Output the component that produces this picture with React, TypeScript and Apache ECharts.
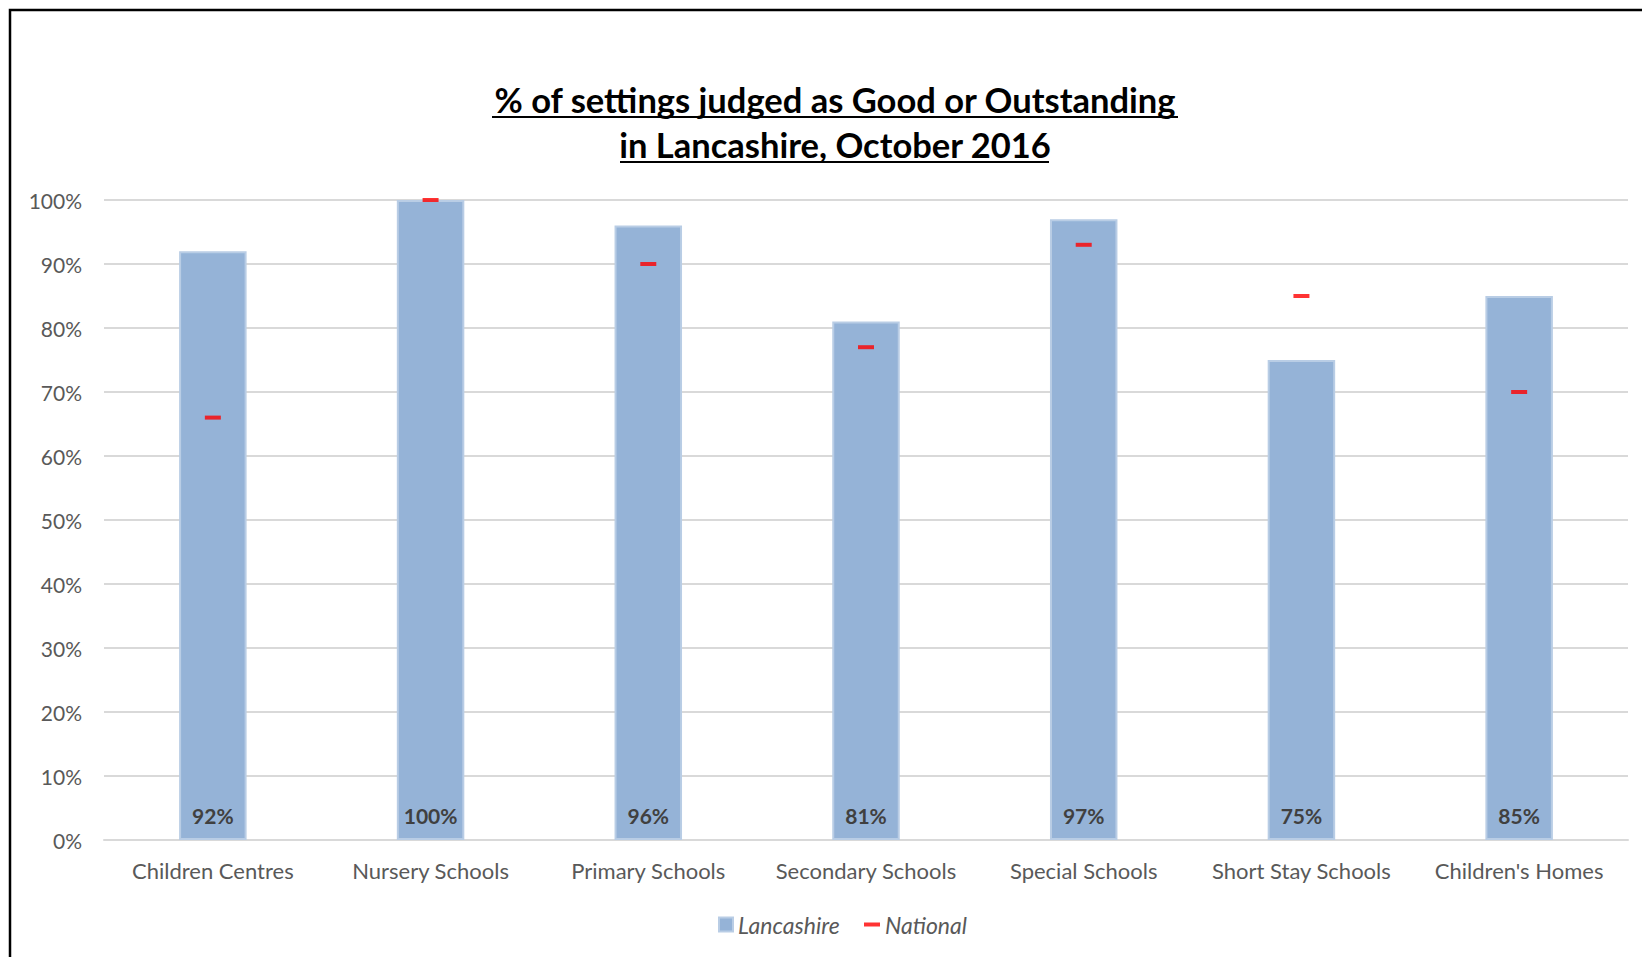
import React, { useEffect, useRef } from "react";
import * as echarts from "echarts";

const categories = [
  "Children Centres",
  "Nursery Schools",
  "Primary Schools",
  "Secondary Schools",
  "Special Schools",
  "Short Stay Schools",
  "Children's Homes",
];
const lancashire = [92, 100, 96, 81, 97, 75, 85];
const national = [66, 100, 90, 77, 93, 85, 70];
const titleLines = ["% of settings judged as Good or Outstanding", "in Lancashire, October 2016"];

const FONT = "Lato, 'Open Sans', sans-serif";

export default function App() {
  const ref = useRef<HTMLDivElement>(null);
  useEffect(() => {
    document.body.style.margin = "0";
    const chart = echarts.init(ref.current!, null, { renderer: "svg" });
    chart.setOption({
      animation: false,
      backgroundColor: "#ffffff",
      textStyle: { fontFamily: FONT },
      grid: { left: 104, right: 14, top: 200, bottom: 117, containLabel: false },
      graphic: [
        {
          type: "rect",
          shape: { x: 10, y: 10, width: 1700, height: 1000 },
          style: { fill: "none", stroke: "#000", lineWidth: 2.5 },
          z: 100,
        },
        {
          type: "text",
          x: 835,
          y: 99,
          style: {
            text: titleLines[0],
            fontFamily: FONT,
            fontWeight: "bold",
            fontSize: 34.5,
            fill: "#000",
            align: "center",
            verticalAlign: "middle",
          },
        },
        {
          type: "text",
          x: 835,
          y: 144,
          style: {
            text: titleLines[1],
            fontFamily: FONT,
            fontWeight: "bold",
            fontSize: 34.5,
            fill: "#000",
            align: "center",
            verticalAlign: "middle",
          },
        },
        {
          type: "line",
          shape: { x1: 492, y1: 117, x2: 1178, y2: 117 },
          style: { stroke: "#000", lineWidth: 2 },
        },
        {
          type: "line",
          shape: { x1: 620, y1: 162, x2: 1049, y2: 162 },
          style: { stroke: "#000", lineWidth: 2 },
        },
      ],
      legend: [
        {
          data: ["Lancashire"],
          left: 713,
          top: 908,
          itemWidth: 14,
          itemHeight: 14,
          itemGap: 6,
          icon: "rect",
          textStyle: { fontFamily: FONT, fontSize: 23, fontStyle: "italic", color: "#595959" },
        },
        {
          data: ["National"],
          left: 859,
          top: 908,
          itemWidth: 16,
          itemHeight: 4,
          icon: "rect",
          textStyle: { fontFamily: FONT, fontSize: 23, fontStyle: "italic", color: "#595959" },
        },
      ],
      xAxis: {
        type: "category",
        data: categories,
        axisLine: { lineStyle: { color: "#d9d9d9", width: 2 } },
        axisTick: { show: false },
        axisLabel: { color: "#595959", fontSize: 22, fontFamily: FONT, margin: 19, interval: 0 },
      },
      yAxis: {
        type: "value",
        min: 0,
        max: 100,
        interval: 10,
        axisLabel: { formatter: "{value}%", color: "#595959", fontSize: 21, fontFamily: FONT, margin: 22 },
        splitLine: { lineStyle: { color: "#d9d9d9", width: 2 } },
        axisLine: { show: false },
        axisTick: { show: false },
      },
      series: [
        {
          name: "Lancashire",
          type: "bar",
          data: lancashire,
          barWidth: "31%",
          itemStyle: { color: "#95b3d7", borderColor: "#b9cde5", borderWidth: 2 },
          label: {
            show: true,
            position: "insideBottom",
            distance: 14,
            formatter: "{c}%",
            color: "#404040",
            fontWeight: "bold",
            fontSize: 21,
            fontFamily: FONT,
          },
        },
        {
          name: "National",
          type: "scatter",
          data: national,
          symbol: "rect",
          symbolSize: [16, 4],
          itemStyle: { color: "#ff0000" },
          z: 5,
        },
      ],
    });
    return () => chart.dispose();
  }, []);
  return <div ref={ref} style={{ position: "absolute", left: 0, top: 0, width: 1642, height: 957 }} />;
}
